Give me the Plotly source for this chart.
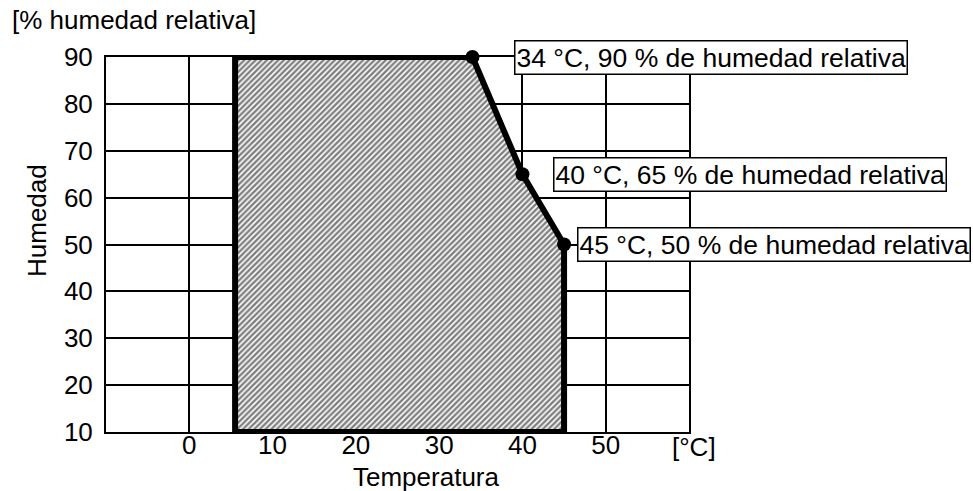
import plotly.graph_objects as go

# Operating envelope: temperature (°C) vs. relative humidity (%)
env_temp = [5.5, 5.5, 34, 40, 45, 45, 5.5]
env_hum = [10, 90, 90, 65, 50, 10, 10]

# Labelled corner points
pt_temp = [34, 40, 45]
pt_hum = [90, 65, 50]
pt_text = [
    "34 °C, 90 % de humedad relativa",
    "40 °C, 65 % de humedad relativa",
    "45 °C, 50 % de humedad relativa",
]

x_ticks = [0, 10, 20, 30, 40, 50]
y_ticks = [10, 20, 30, 40, 50, 60, 70, 80, 90]

FONT = "Liberation Sans, Arial, sans-serif"
FS = 26

fig = go.Figure()

fig.add_trace(go.Scatter(
    x=env_temp, y=env_hum, mode="lines", fill="toself",
    fillcolor="white",
    fillpattern=dict(shape="/", fgcolor="black", bgcolor="white",
                     size=4, solidity=0.6),
    line=dict(color="black", width=6),
    cliponaxis=False, hoverinfo="skip", showlegend=False,
))

fig.add_trace(go.Scatter(
    x=pt_temp, y=pt_hum, mode="markers",
    marker=dict(color="black", size=14),
    cliponaxis=False, showlegend=False,
))

# Callout boxes beside each corner point
label_offsets = [5.0, 3.7, 1.6]
for tx, hy, txt, off in zip(pt_temp, pt_hum, pt_text, label_offsets):
    fig.add_annotation(
        x=tx + off, y=hy, xref="x", yref="y", text=txt,
        showarrow=False, xanchor="left", yanchor="middle",
        bgcolor="white", bordercolor="black", borderwidth=1.5, borderpad=1,
        font=dict(family=FONT, size=26.5, color="black"),
    )

pw, ph, ml, mb = 583, 375, 106, 59


def px(xp):
    return (xp - ml) / pw


def py(yp):
    return (491 - mb - yp) / ph


fig.add_annotation(text="[% humedad relativa]", x=px(10), y=py(20),
                   xref="paper", yref="paper", xanchor="left", yanchor="middle",
                   showarrow=False, font=dict(family=FONT, size=FS, color="black"))
fig.add_annotation(text="Humedad", x=px(37), y=py(221), textangle=-90,
                   xref="paper", yref="paper", xanchor="center", yanchor="middle",
                   showarrow=False, font=dict(family=FONT, size=FS, color="black"))
fig.add_annotation(text="Temperatura", x=px(426), y=py(477),
                   xref="paper", yref="paper", xanchor="center", yanchor="middle",
                   showarrow=False, font=dict(family=FONT, size=FS, color="black"))
fig.add_annotation(text="[°C]", x=px(694), y=py(447),
                   xref="paper", yref="paper", xanchor="center", yanchor="middle",
                   showarrow=False, font=dict(family=FONT, size=FS, color="black"))

axis_common = dict(
    showgrid=True, gridcolor="black", gridwidth=1.5,
    showline=True, linecolor="black", linewidth=2, mirror=True,
    zeroline=False, ticks="", fixedrange=True,
    tickfont=dict(family=FONT, size=FS, color="black"),
)

fig.update_xaxes(range=[-10, 60], tickvals=x_ticks,
                 ticktext=[str(v) for v in x_ticks], ticklabelstandoff=-11,
                 **axis_common)
fig.update_yaxes(range=[10, 90], tickvals=y_ticks,
                 ticktext=[str(v) for v in y_ticks], ticklabelstandoff=6,
                 **axis_common)

fig.update_layout(
    width=973, height=491,
    margin=dict(l=ml, r=973 - ml - pw, t=491 - mb - ph, b=mb),
    paper_bgcolor="white", plot_bgcolor="white",
    font=dict(family=FONT, size=FS, color="black"),
    showlegend=False,
)

fig.write_html("out.html", config={"displayModeBar": False})
